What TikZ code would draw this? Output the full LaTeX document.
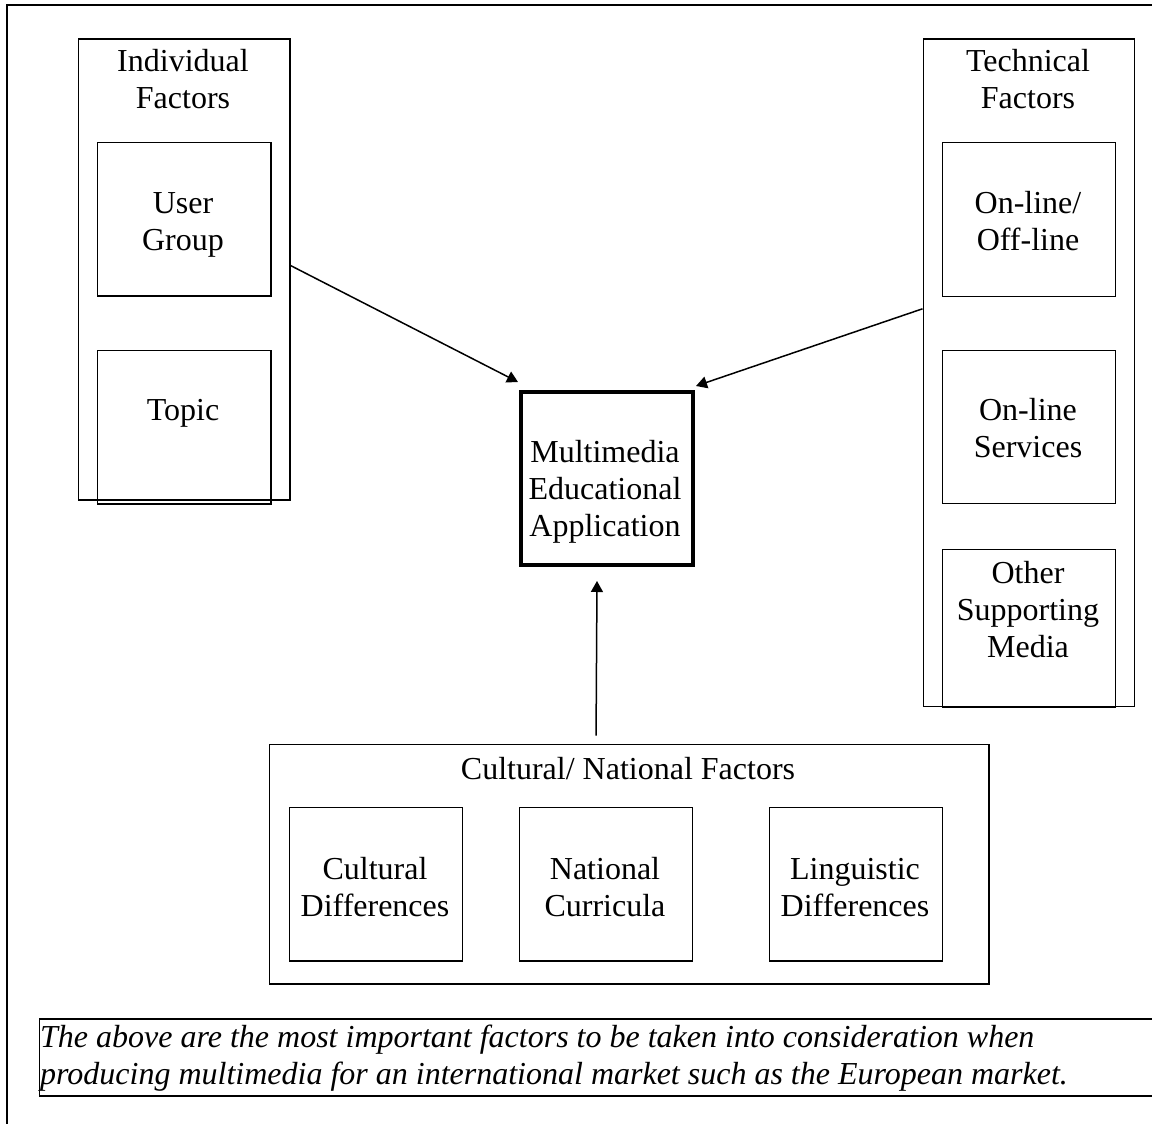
\documentclass[tikz,border=0pt]{standalone}
\usepackage{fontspec}
\setmainfont{Liberation Serif}
\usetikzlibrary{arrows.meta,calc}

% several centred lines whose anchor is the baseline of the first line
\newcommand\stacklines[1]{\begin{tabular}[t]{@{}c@{}}#1\end{tabular}}
\newcommand\leftlines[1]{\begin{tabular}[t]{@{}l@{}}#1\end{tabular}}

\begin{document}
\begin{tikzpicture}[x=1pt,y=-1pt,
  panel/.style={draw, line width=1.6pt, inner sep=0pt, anchor=north west},
  mainbox/.style={draw, line width=4pt, inner sep=0pt, anchor=north west},
  label/.style={inner sep=0pt, anchor=base, font=\fontsize{32}{37}\selectfont},
  conn/.style={line width=1.5pt, -{Triangle[length=11pt,width=12pt]}},
]
\useasboundingbox (0,0) rectangle (1152,1124);

% outer frame, running off the right and bottom edges
\draw[line width=2.4pt] (7,1130) -- (7,5) -- (1160,5);

% individual factors
\node[panel, minimum width=211.5pt, minimum height=460.5pt] (indiv) at (77.5,38.5) {};
\node[panel, minimum width=173.5pt, minimum height=153.5pt] (ug) at (96.5,141.5) {};
\node[panel, minimum width=173.5pt, minimum height=153.5pt] (topic) at (96.5,349.5) {};
\node[label] (indivt) at (183,72) {\stacklines{Individual\\Factors}};
\node[label] (ugt) at (183,213) {\stacklines{User\\Group}};
\node[label] (topict) at (183,420) {Topic};

% technical factors
\node[panel, minimum width=211pt, minimum height=667pt] (tech) at (922.5,38.5) {};
\node[panel, minimum width=173pt, minimum height=154pt] (onoff) at (941.5,141.5) {};
\node[panel, minimum width=173pt, minimum height=153pt] (onsvc) at (941.5,349.5) {};
\node[panel, minimum width=173pt, minimum height=158pt] (other) at (941.5,548.5) {};
\node[label] (techt) at (1028,72) {\stacklines{Technical\\Factors}};
\node[label] (onofft) at (1028,213) {\stacklines{On-line/\\Off-line}};
\node[label] (onsvct) at (1028,420) {\stacklines{On-line\\Services}};
\node[label] (othert) at (1028,583) {\stacklines{Other\\Supporting\\Media}};

% central application
\node[mainbox, minimum width=172pt, minimum height=173pt] (mm) at (519,390) {};
\node[label] (mmt) at (605,462) {\stacklines{Multimedia\\Educational\\Application}};

% cultural / national factors
\node[panel, minimum width=719.5pt, minimum height=239.5pt] (cult) at (268.5,743.5) {};
\node[panel, minimum width=173pt, minimum height=153.5pt] (cd) at (288.5,806.5) {};
\node[panel, minimum width=173pt, minimum height=153.5pt] (nc) at (518.5,806.5) {};
\node[panel, minimum width=173pt, minimum height=153.5pt] (ld) at (768.5,806.5) {};
\node[label] (cultt) at (628,779) {Cultural/ National Factors};
\node[label] (cdt) at (375,879) {\stacklines{Cultural\\Differences}};
\node[label] (nct) at (605,879) {\stacklines{National\\Curricula}};
\node[label] (ldt) at (855,879) {\stacklines{Linguistic\\Differences}};

% connectors
\coordinate (a1s) at ($(indiv.east)+(0,-4)$);
\coordinate (a1e) at ($(mm.north west)+(-1,-8)$);
\coordinate (a2s) at ($(tech.west)+(0,-64)$);
\coordinate (a2e) at ($(mm.north east)+(1,-4)$);
\coordinate (a3s) at ($(cult.north)+(-33,-8)$);
\coordinate (a3e) at ($(mm.south)+(-10,14)$);
\draw[conn] (a1s) -- (a1e);
\draw[conn] (a2s) -- (a2e);
\draw[conn] (a3s) -- (a3e);

% caption
\node[panel, minimum width=1130pt, minimum height=77pt] (cap) at (38.5,1018) {};
\begin{scope}
  \clip (cap.north west) rectangle (cap.south east);
  \node[label, anchor=base west, font=\fontsize{32}{37}\selectfont\itshape] (capt) at (40,1047)
    {\leftlines{The above are the most important factors to be taken into consideration when\\producing multimedia for an international market such as the European market.}};
\end{scope}
\end{tikzpicture}
\end{document}
